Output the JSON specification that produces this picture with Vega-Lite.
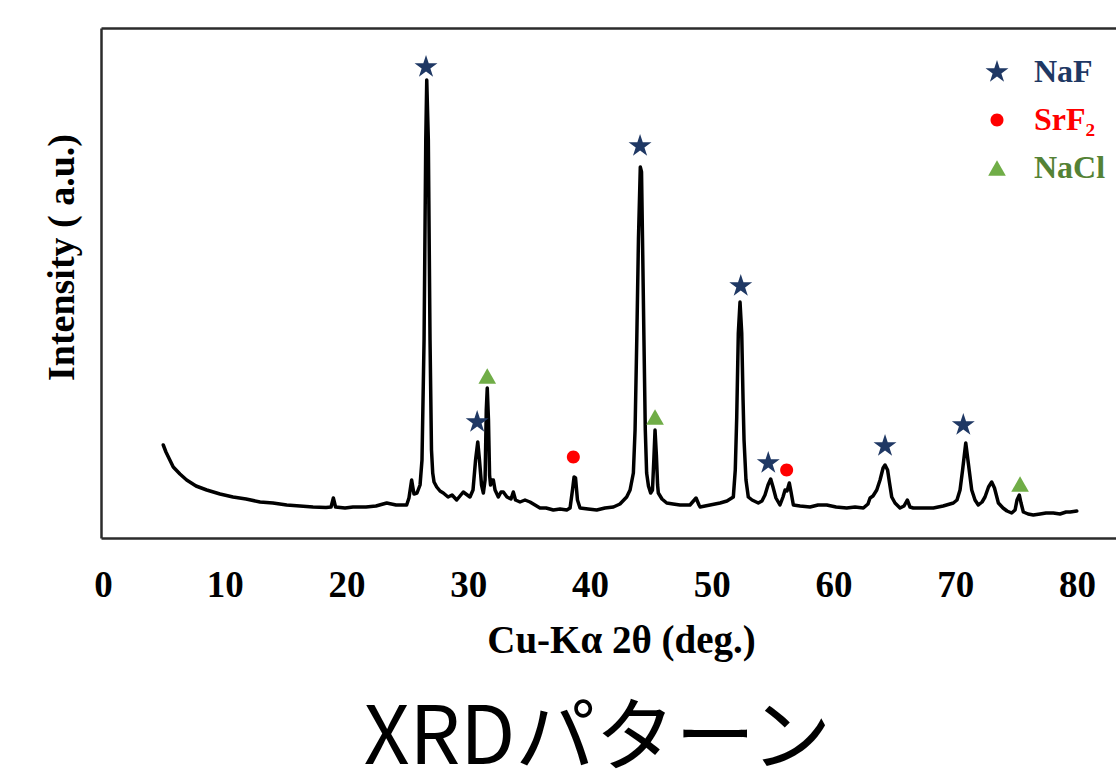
{
  "$schema": "https://vega.github.io/schema/vega-lite/v6.json",
  "width": 1015,
  "height": 510,
  "autosize": {"type": "none"},
  "padding": {"left": 101, "top": 28, "right": 0, "bottom": 235},
  "background": "white",
  "title": {
    "text": "XRDパターン",
    "orient": "bottom",
    "anchor": "middle",
    "frame": "group",
    "font": "Noto Sans CJK JP",
    "fontSize": 80,
    "fontWeight": "normal",
    "color": "#000000",
    "baseline": "alphabetic",
    "offset": 104,
    "dx": -11
  },
  "config": {
    "view": {"stroke": null},
    "axis": {
      "grid": false,
      "ticks": false,
      "tickSize": 0,
      "domainColor": "#2b2b2b",
      "domainWidth": 2.5,
      "labelFont": "Liberation Serif",
      "titleFont": "Liberation Serif",
      "labelFontWeight": "bold",
      "titleFontWeight": "bold",
      "labelColor": "#000000",
      "titleColor": "#000000"
    }
  },
  "datasets": {
    "curve": [
      {"deg": 4.95, "I": 93}, {"deg": 5.17, "I": 86}, {"deg": 5.77, "I": 71}, {"deg": 6.32, "I": 64},
      {"deg": 6.87, "I": 58}, {"deg": 7.64, "I": 52}, {"deg": 8.52, "I": 48}, {"deg": 9.61, "I": 44},
      {"deg": 10.68, "I": 41}, {"deg": 11.75, "I": 39}, {"deg": 12.9, "I": 36}, {"deg": 13.96, "I": 35},
      {"deg": 15.09, "I": 33}, {"deg": 16.18, "I": 32}, {"deg": 17.25, "I": 31}, {"deg": 18.32, "I": 30.5},
      {"deg": 18.73, "I": 31}, {"deg": 18.92, "I": 40}, {"deg": 19.1, "I": 31}, {"deg": 19.88, "I": 30},
      {"deg": 20.53, "I": 31}, {"deg": 21.6, "I": 31}, {"deg": 22.42, "I": 32}, {"deg": 23.3, "I": 35},
      {"deg": 24.07, "I": 33}, {"deg": 24.94, "I": 33}, {"deg": 25.13, "I": 40}, {"deg": 25.35, "I": 58},
      {"deg": 25.54, "I": 44}, {"deg": 25.79, "I": 45}, {"deg": 26.04, "I": 53}, {"deg": 26.2, "I": 78},
      {"deg": 26.37, "I": 198}, {"deg": 26.51, "I": 398}, {"deg": 26.59, "I": 458}, {"deg": 26.72, "I": 398},
      {"deg": 26.86, "I": 198}, {"deg": 26.98, "I": 88}, {"deg": 27.08, "I": 65}, {"deg": 27.19, "I": 56},
      {"deg": 27.41, "I": 51}, {"deg": 27.68, "I": 47}, {"deg": 27.95, "I": 45}, {"deg": 28.34, "I": 41},
      {"deg": 28.67, "I": 43}, {"deg": 29.05, "I": 38}, {"deg": 29.32, "I": 42}, {"deg": 29.59, "I": 46},
      {"deg": 29.81, "I": 44}, {"deg": 30.14, "I": 41}, {"deg": 30.39, "I": 48}, {"deg": 30.6, "I": 78},
      {"deg": 30.78, "I": 96}, {"deg": 30.92, "I": 78}, {"deg": 31.09, "I": 53}, {"deg": 31.24, "I": 45},
      {"deg": 31.38, "I": 58}, {"deg": 31.48, "I": 128}, {"deg": 31.56, "I": 150}, {"deg": 31.66, "I": 118},
      {"deg": 31.75, "I": 63}, {"deg": 31.83, "I": 53}, {"deg": 31.95, "I": 58}, {"deg": 32.06, "I": 58},
      {"deg": 32.2, "I": 48}, {"deg": 32.47, "I": 41}, {"deg": 32.69, "I": 46}, {"deg": 32.88, "I": 46},
      {"deg": 33.18, "I": 41}, {"deg": 33.51, "I": 39}, {"deg": 33.7, "I": 46}, {"deg": 33.88, "I": 38},
      {"deg": 34.25, "I": 36}, {"deg": 34.66, "I": 38}, {"deg": 35.07, "I": 36}, {"deg": 35.48, "I": 33},
      {"deg": 35.89, "I": 30}, {"deg": 36.39, "I": 30}, {"deg": 36.99, "I": 28}, {"deg": 37.54, "I": 29},
      {"deg": 38.09, "I": 28}, {"deg": 38.36, "I": 30}, {"deg": 38.56, "I": 48}, {"deg": 38.69, "I": 61},
      {"deg": 38.81, "I": 60}, {"deg": 38.97, "I": 38}, {"deg": 39.18, "I": 30}, {"deg": 39.84, "I": 29},
      {"deg": 40.55, "I": 28}, {"deg": 41.23, "I": 30}, {"deg": 41.92, "I": 31}, {"deg": 42.46, "I": 34},
      {"deg": 43.01, "I": 41}, {"deg": 43.29, "I": 48}, {"deg": 43.56, "I": 65}, {"deg": 43.7, "I": 108},
      {"deg": 43.84, "I": 198}, {"deg": 43.98, "I": 300}, {"deg": 44.13, "I": 371}, {"deg": 44.23, "I": 366},
      {"deg": 44.31, "I": 300}, {"deg": 44.43, "I": 198}, {"deg": 44.54, "I": 108}, {"deg": 44.65, "I": 65},
      {"deg": 44.8, "I": 52}, {"deg": 44.98, "I": 45}, {"deg": 45.13, "I": 48}, {"deg": 45.24, "I": 78},
      {"deg": 45.34, "I": 108}, {"deg": 45.45, "I": 83}, {"deg": 45.55, "I": 53}, {"deg": 45.61, "I": 45},
      {"deg": 45.91, "I": 39}, {"deg": 46.3, "I": 35}, {"deg": 46.82, "I": 34}, {"deg": 47.39, "I": 33},
      {"deg": 48.21, "I": 33}, {"deg": 48.71, "I": 40}, {"deg": 48.95, "I": 33}, {"deg": 49.04, "I": 31},
      {"deg": 49.86, "I": 33}, {"deg": 50.68, "I": 35}, {"deg": 51.25, "I": 37}, {"deg": 51.77, "I": 41},
      {"deg": 51.93, "I": 68}, {"deg": 52.05, "I": 121}, {"deg": 52.18, "I": 205}, {"deg": 52.32, "I": 236},
      {"deg": 52.46, "I": 205}, {"deg": 52.57, "I": 138}, {"deg": 52.65, "I": 98}, {"deg": 52.81, "I": 58},
      {"deg": 53.0, "I": 41}, {"deg": 53.31, "I": 38}, {"deg": 53.82, "I": 35}, {"deg": 54.12, "I": 37},
      {"deg": 54.37, "I": 43}, {"deg": 54.62, "I": 53}, {"deg": 54.84, "I": 59}, {"deg": 55.03, "I": 51},
      {"deg": 55.27, "I": 40}, {"deg": 55.6, "I": 33}, {"deg": 55.85, "I": 41}, {"deg": 56.02, "I": 48},
      {"deg": 56.18, "I": 47}, {"deg": 56.37, "I": 55}, {"deg": 56.51, "I": 46}, {"deg": 56.7, "I": 33},
      {"deg": 57.25, "I": 32}, {"deg": 58.07, "I": 31}, {"deg": 58.73, "I": 33}, {"deg": 59.44, "I": 33},
      {"deg": 60.21, "I": 31}, {"deg": 61.08, "I": 30}, {"deg": 61.77, "I": 31}, {"deg": 62.45, "I": 30},
      {"deg": 62.83, "I": 34}, {"deg": 63.0, "I": 40}, {"deg": 63.24, "I": 42}, {"deg": 63.55, "I": 48},
      {"deg": 63.82, "I": 58}, {"deg": 64.07, "I": 70}, {"deg": 64.23, "I": 73}, {"deg": 64.44, "I": 68},
      {"deg": 64.6, "I": 55}, {"deg": 64.78, "I": 41}, {"deg": 65.05, "I": 35}, {"deg": 65.46, "I": 30},
      {"deg": 65.79, "I": 32}, {"deg": 66.06, "I": 38}, {"deg": 66.28, "I": 31}, {"deg": 66.55, "I": 30},
      {"deg": 67.35, "I": 30}, {"deg": 68.2, "I": 30}, {"deg": 69.0, "I": 32}, {"deg": 69.84, "I": 35},
      {"deg": 70.14, "I": 38}, {"deg": 70.39, "I": 48}, {"deg": 70.6, "I": 68}, {"deg": 70.86, "I": 95},
      {"deg": 71.09, "I": 73}, {"deg": 71.35, "I": 48}, {"deg": 71.62, "I": 38}, {"deg": 71.89, "I": 33},
      {"deg": 72.2, "I": 36}, {"deg": 72.44, "I": 41}, {"deg": 72.73, "I": 51}, {"deg": 72.99, "I": 56},
      {"deg": 73.22, "I": 50}, {"deg": 73.54, "I": 35}, {"deg": 73.92, "I": 30}, {"deg": 74.25, "I": 27},
      {"deg": 74.63, "I": 25}, {"deg": 74.91, "I": 28}, {"deg": 75.07, "I": 38}, {"deg": 75.26, "I": 43},
      {"deg": 75.4, "I": 35}, {"deg": 75.59, "I": 26}, {"deg": 75.98, "I": 24}, {"deg": 76.41, "I": 23},
      {"deg": 76.96, "I": 24}, {"deg": 77.45, "I": 25}, {"deg": 78.05, "I": 25}, {"deg": 78.6, "I": 24},
      {"deg": 79.1, "I": 26}, {"deg": 79.43, "I": 26}, {"deg": 79.98, "I": 27}
    ],
    "peaks": [
      {"phase": "NaF", "deg": 26.53, "I": 471},
      {"phase": "NaF", "deg": 30.73, "I": 116},
      {"phase": "NaF", "deg": 44.11, "I": 392},
      {"phase": "NaF", "deg": 52.38, "I": 252},
      {"phase": "NaF", "deg": 54.64, "I": 75},
      {"phase": "NaF", "deg": 64.23, "I": 92},
      {"phase": "NaF", "deg": 70.66, "I": 113},
      {"phase": "SrF₂", "deg": 38.63, "I": 81},
      {"phase": "SrF₂", "deg": 56.15, "I": 68},
      {"phase": "NaCl", "deg": 31.56, "I": 162},
      {"phase": "NaCl", "deg": 45.34, "I": 121},
      {"phase": "NaCl", "deg": 75.32, "I": 54}
    ]
  },
  "encoding": {
    "y": {
      "field": "I",
      "type": "quantitative",
      "scale": {"domain": [0, 510], "nice": false, "zero": false},
      "axis": {
        "labels": false,
        "title": "Intensity ( a.u.)",
        "titleFontSize": 38,
        "titleAngle": -90,
        "titleX": -39,
        "titleY": 229,
        "titleAlign": "center",
        "titleBaseline": "middle",
        "domain": true
      }
    }
  },
  "layer": [
    {
      "data": {"name": "curve"},
      "mark": {"type": "line", "color": "#000000", "strokeWidth": 3.5, "strokeJoin": "round", "strokeCap": "round"},
      "encoding": {
        "x": {
          "field": "deg",
          "type": "quantitative",
          "scale": {"domain": [-0.164, 83.2], "nice": false, "zero": false},
          "axis": {
            "orient": "bottom",
            "values": [0, 10, 20, 30, 40, 50, 60, 70, 80],
            "labelFontSize": 37,
            "labelBaseline": "alphabetic",
            "labelPadding": 58,
            "labelAlign": "center",
            "labelFlush": false,
            "labelOverlap": false,
            "title": "Cu-Kα 2θ (deg.)",
            "titleFontSize": 39,
            "titleX": 520,
            "titleY": 114,
            "titleAlign": "center",
            "titleBaseline": "alphabetic"
          }
        }
      }
    },
    {
      "data": {"name": "peaks"},
      "mark": {"type": "point", "filled": true, "opacity": 1, "strokeWidth": 0},
      "encoding": {
        "x": {
          "field": "deg",
          "type": "quantitative",
          "scale": {"domain": [-0.164, 83.2], "nice": false, "zero": false},
          "axis": {"orient": "top", "labels": false, "title": null, "domain": true}
        },
        "color": {
          "field": "phase",
          "type": "nominal",
          "scale": {"domain": ["NaF", "SrF₂", "NaCl"], "range": ["#1F3864", "#FF0000", "#70AD47"]},
          "legend": {
            "orient": "none",
            "legendX": 880,
            "legendY": 28,
            "title": null,
            "padding": 0,
            "labelFont": "Liberation Serif",
            "labelFontSize": 32,
            "labelFontWeight": "bold",
            "labelOffset": 21,
            "labelColor": {"expr": "datum.value === 'NaF' ? '#1F3864' : datum.value === 'NaCl' ? '#548235' : '#FF0000'"},
            "rowPadding": 16,
            "symbolSize": 160,
            "symbolStrokeWidth": 0
          }
        },
        "shape": {
          "field": "phase",
          "type": "nominal",
          "scale": {
            "domain": ["NaF", "SrF₂", "NaCl"],
            "range": [
              "M0,-1L0.2245,-0.309L0.951,-0.309L0.363,0.118L0.588,0.809L0,0.382L-0.588,0.809L-0.363,0.118L-0.951,-0.309L-0.2245,-0.309Z",
              "M0.79,0A0.79,0.79 0 1,1 -0.79,0A0.79,0.79 0 1,1 0.79,0Z",
              "M0,-1.03L1.19,1.03L-1.19,1.03Z"
            ]
          }
        },
        "size": {
          "field": "phase",
          "type": "nominal",
          "scale": {"type": "ordinal", "domain": ["NaF", "SrF₂", "NaCl"], "range": [580, 271, 220]},
          "legend": null
        }
      }
    }
  ],
  "resolve": {"axis": {"x": "independent"}}
}
